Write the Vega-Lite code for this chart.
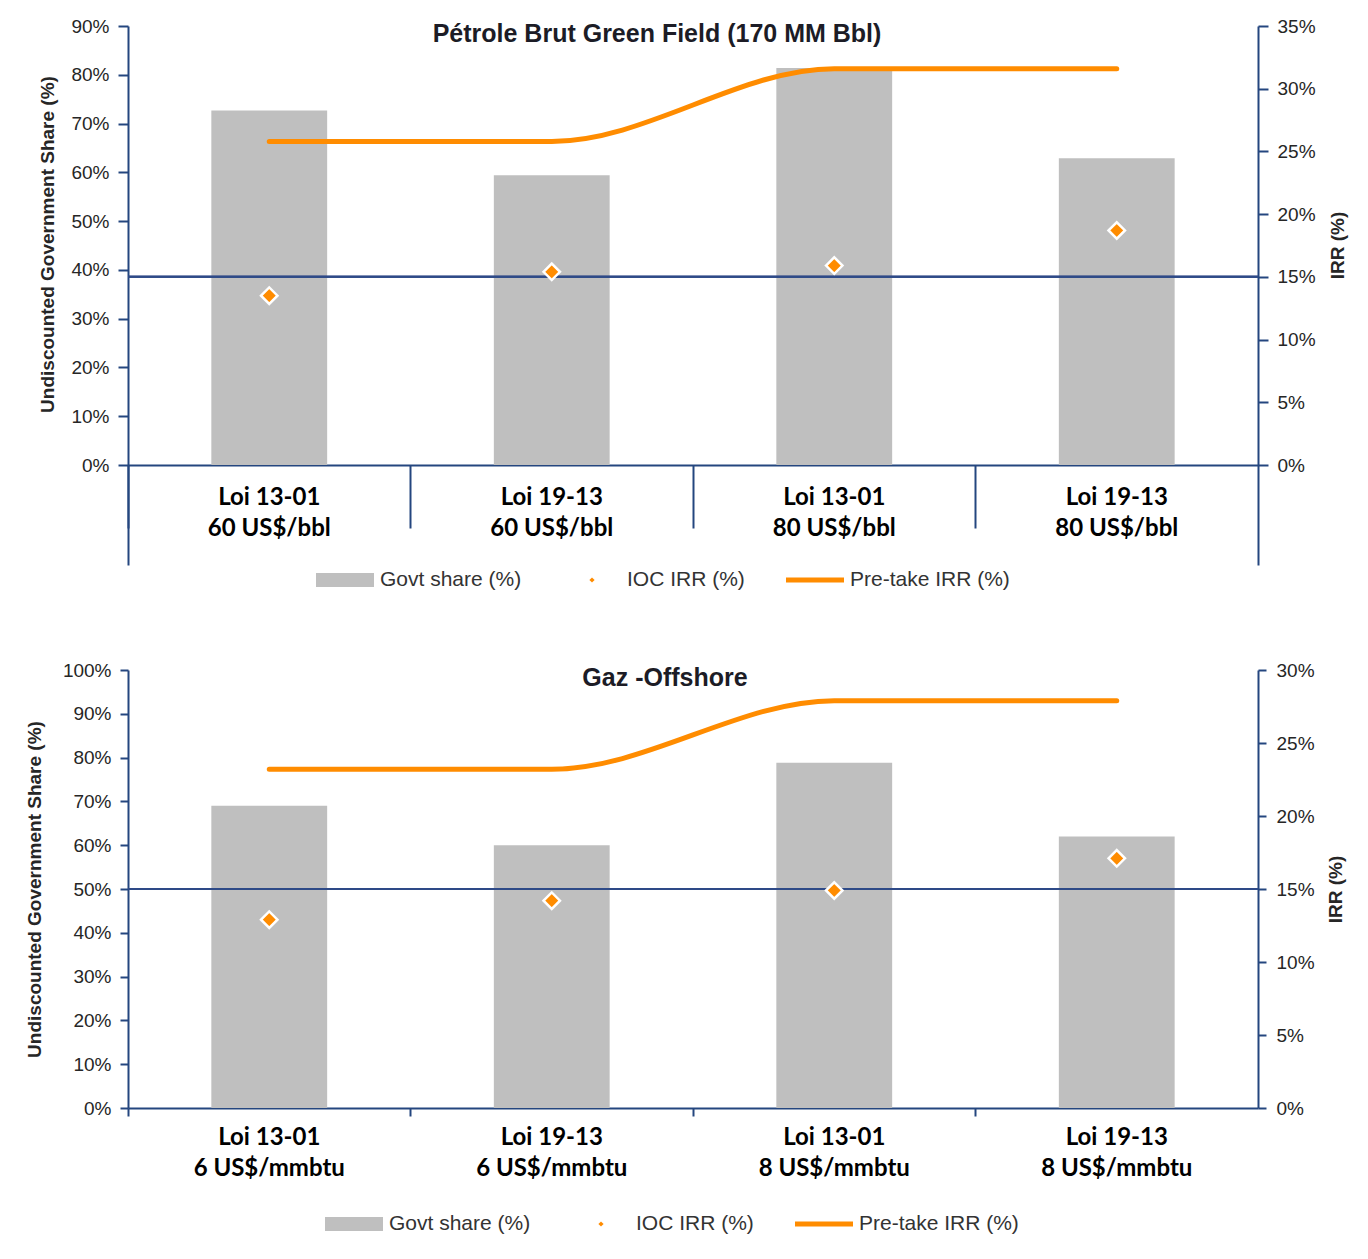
{
  "$schema": "https://vega.github.io/schema/vega-lite/v6.json",
  "background": "white",
  "padding": {"left": 25, "top": 17, "right": 5, "bottom": 5},
  "spacing": 71,
  "config": {
    "view": {"stroke": null},
    "axis": {
      "grid": false,
      "domainColor": "#24467f",
      "domainWidth": 2,
      "tickColor": "#24467f",
      "tickWidth": 2,
      "labelFont": "Liberation Sans",
      "labelFontSize": 19,
      "labelColor": "#262626",
      "labelOverlap": false,
      "labelFlush": false,
      "titleFont": "Liberation Sans",
      "titleFontSize": 19,
      "titleFontWeight": "bold",
      "titleColor": "#262626"
    },
    "title": {"font": "Liberation Sans", "fontSize": 25, "fontWeight": "bold", "color": "#1c1c26", "anchor": "middle", "frame": "group"}
  },
  "datasets": {
    "oil": [
      {"cat": "Loi 13-01|60 US$/bbl", "govt": 0.727, "ioc": 0.135, "pretake": 0.258},
      {"cat": "Loi 19-13|60 US$/bbl", "govt": 0.594, "ioc": 0.154, "pretake": 0.258},
      {"cat": "Loi 13-01|80 US$/bbl", "govt": 0.814, "ioc": 0.159, "pretake": 0.316},
      {"cat": "Loi 19-13|80 US$/bbl", "govt": 0.629, "ioc": 0.187, "pretake": 0.316}
    ],
    "gas": [
      {"cat": "Loi 13-01|6 US$/mmbtu", "govt": 0.69, "ioc": 0.129, "pretake": 0.232},
      {"cat": "Loi 19-13|6 US$/mmbtu", "govt": 0.60, "ioc": 0.142, "pretake": 0.232},
      {"cat": "Loi 13-01|8 US$/mmbtu", "govt": 0.788, "ioc": 0.149, "pretake": 0.279},
      {"cat": "Loi 19-13|8 US$/mmbtu", "govt": 0.62, "ioc": 0.171, "pretake": 0.279}
    ]
  },
  "resolve": {"scale": {"color": "independent"}},
  "vconcat": [
    {
      "data": {"name": "oil"},
      "width": 1130,
      "height": 539,
      "title": {"text": "Pétrole Brut Green Field (170 MM Bbl)", "offset": -30, "dx": -36},
      "layer": [
        {
          "mark": {"type": "bar", "color": "#bfbfbf", "width": {"band": 0.41}},
          "encoding": {
            "x": {"field": "cat", "type": "nominal", "sort": null, "scale": {"paddingInner": 0, "paddingOuter": 0},
              "axis": {"title": null, "orient": "bottom", "offset": -100, "tickSize": 63, "labelPadding": -43, "bandPosition": 0, "labelAngle": 0, "labelExpr": "split(datum.label, '|')", "labelFont": "Lato", "labelFontWeight": "bold", "labelFontSize": 24, "labelColor": "#000000", "labelLineHeight": 31}},
            "y": {"field": "govt", "type": "quantitative", "scale": {"domain": [-0.205, 0.9], "nice": false, "zero": false},
              "axis": {"title": "Undiscounted Government Share (%)", "values": [0, 0.1, 0.2, 0.3, 0.4, 0.5, 0.6, 0.7, 0.8, 0.9], "format": ".0%", "tickSize": 10, "labelPadding": 9, "titleX": -71, "titleY": 218, "titleAngle": 270, "titleBaseline": "bottom"}},
            "color": {"datum": "Govt share (%)", "type": "nominal",
              "scale": {"domain": ["Govt share (%)", "IOC IRR (%)", "Pre-take IRR (%)"], "range": ["#bfbfbf", "#ff8c00", "#ff8c00"]},
              "legend": {"orient": "none", "legendX": 188, "legendY": 525, "direction": "horizontal", "title": null, "symbolSize": 3364, "labelFont": "Liberation Sans", "labelFontSize": 21, "labelColor": "#333333", "labelOffset": 6, "columnPadding": 41, "padding": 0,
                "encode": {"symbols": {"update": {
                  "shape": {"signal": "datum.value === 'Govt share (%)' ? 'M-1,-0.24H1V0.24H-1Z' : datum.value === 'IOC IRR (%)' ? 'M0,-0.09L0.09,0L0,0.09L-0.09,0Z' : 'M-1,-0.09H1V0.09H-1Z'"},
                  "fill": {"signal": "datum.value === 'Govt share (%)' ? '#bfbfbf' : '#ff8c00'"},
                  "size": {"value": 3364},
                  "stroke": {"value": "transparent"},
                  "strokeWidth": {"value": 0},
                  "opacity": {"value": 1}
                }}}}}
          }
        },
        {
          "layer": [
            {
              "mark": {"type": "rule", "color": "#2e4a87", "strokeWidth": 2, "opacity": 0.8},
              "encoding": {
                "y": {"datum": 0.15, "type": "quantitative", "scale": {"domain": [-0.0797, 0.35], "nice": false, "zero": false},
                  "axis": {"title": "IRR (%)", "orient": "right", "values": [0, 0.05, 0.1, 0.15, 0.2, 0.25, 0.3, 0.35], "format": ".0%", "tickSize": 10, "labelPadding": 9, "titleX": 89, "titleY": 219, "titleAngle": 270, "titleBaseline": "bottom"}}
              }
            },
            {
              "mark": {"type": "line", "strokeWidth": 5, "interpolate": "monotone", "strokeCap": "round"},
              "encoding": {
                "x": {"field": "cat", "type": "nominal", "sort": null,
                  "axis": {"title": null, "orient": "bottom", "offset": -100, "tickSize": 63, "labelPadding": -43, "bandPosition": 0, "labelAngle": 0, "labelExpr": "split(datum.label, '|')", "labelFont": "Lato", "labelFontWeight": "bold", "labelFontSize": 24, "labelColor": "#000000", "labelLineHeight": 31}},
                "y": {"field": "pretake", "type": "quantitative",
                  "axis": {"title": "IRR (%)", "orient": "right", "values": [0, 0.05, 0.1, 0.15, 0.2, 0.25, 0.3, 0.35], "format": ".0%", "tickSize": 10, "labelPadding": 9, "titleX": 89, "titleY": 219, "titleAngle": 270, "titleBaseline": "bottom"}},
                "color": {"datum": "Pre-take IRR (%)", "type": "nominal"}
              }
            },
            {
              "mark": {"type": "point", "shape": "diamond", "filled": true, "size": 270, "stroke": "white", "strokeWidth": 2.5, "opacity": 1},
              "encoding": {
                "x": {"field": "cat", "type": "nominal", "sort": null,
                  "axis": {"title": null, "orient": "bottom", "offset": -100, "tickSize": 63, "labelPadding": -43, "bandPosition": 0, "labelAngle": 0, "labelExpr": "split(datum.label, '|')", "labelFont": "Lato", "labelFontWeight": "bold", "labelFontSize": 24, "labelColor": "#000000", "labelLineHeight": 31}},
                "y": {"field": "ioc", "type": "quantitative",
                  "axis": {"title": "IRR (%)", "orient": "right", "values": [0, 0.05, 0.1, 0.15, 0.2, 0.25, 0.3, 0.35], "format": ".0%", "tickSize": 10, "labelPadding": 9, "titleX": 89, "titleY": 219, "titleAngle": 270, "titleBaseline": "bottom"}},
                "color": {"datum": "IOC IRR (%)", "type": "nominal"}
              }
            }
          ]
        }
      ],
      "resolve": {"scale": {"y": "independent"}}
    },
    {
      "data": {"name": "gas"},
      "width": 1130,
      "height": 438,
      "title": {"text": "Gaz -Offshore", "offset": -30, "dx": -28},
      "layer": [
        {
          "mark": {"type": "bar", "color": "#bfbfbf", "width": {"band": 0.41}},
          "encoding": {
            "x": {"field": "cat", "type": "nominal", "sort": null, "scale": {"paddingInner": 0, "paddingOuter": 0},
              "axis": {"title": null, "orient": "bottom", "tickSize": 8, "labelPadding": 9, "bandPosition": 0, "labelAngle": 0, "labelExpr": "split(datum.label, '|')", "labelFont": "Lato", "labelFontWeight": "bold", "labelFontSize": 24, "labelColor": "#000000", "labelLineHeight": 31}},
            "y": {"field": "govt", "type": "quantitative", "scale": {"domain": [0, 1], "nice": false},
              "axis": {"title": "Undiscounted Government Share (%)", "values": [0, 0.1, 0.2, 0.3, 0.4, 0.5, 0.6, 0.7, 0.8, 0.9, 1], "format": ".0%", "tickSize": 8, "labelPadding": 9, "titlePadding": 18}},
            "color": {"datum": "Govt share (%)", "type": "nominal",
              "scale": {"domain": ["Govt share (%)", "IOC IRR (%)", "Pre-take IRR (%)"], "range": ["#bfbfbf", "#ff8c00", "#ff8c00"]},
              "legend": {"orient": "none", "legendX": 197, "legendY": 525, "direction": "horizontal", "title": null, "symbolSize": 3364, "labelFont": "Liberation Sans", "labelFontSize": 21, "labelColor": "#333333", "labelOffset": 6, "columnPadding": 41, "padding": 0,
                "encode": {"symbols": {"update": {
                  "shape": {"signal": "datum.value === 'Govt share (%)' ? 'M-1,-0.24H1V0.24H-1Z' : datum.value === 'IOC IRR (%)' ? 'M0,-0.09L0.09,0L0,0.09L-0.09,0Z' : 'M-1,-0.09H1V0.09H-1Z'"},
                  "fill": {"signal": "datum.value === 'Govt share (%)' ? '#bfbfbf' : '#ff8c00'"},
                  "size": {"value": 3364},
                  "stroke": {"value": "transparent"},
                  "strokeWidth": {"value": 0},
                  "opacity": {"value": 1}
                }}}}}
          }
        },
        {
          "layer": [
            {
              "mark": {"type": "rule", "color": "#2e4a87", "strokeWidth": 2, "opacity": 0.8},
              "encoding": {
                "y": {"datum": 0.15, "type": "quantitative", "scale": {"domain": [0, 0.3], "nice": false},
                  "axis": {"title": "IRR (%)", "orient": "right", "values": [0, 0.05, 0.1, 0.15, 0.2, 0.25, 0.3], "format": ".0%", "tickSize": 8, "labelPadding": 10, "titleX": 87, "titleY": 219, "titleAngle": 270, "titleBaseline": "bottom"}}
              }
            },
            {
              "mark": {"type": "line", "strokeWidth": 5, "interpolate": "monotone", "strokeCap": "round"},
              "encoding": {
                "x": {"field": "cat", "type": "nominal", "sort": null,
                  "axis": {"title": null, "orient": "bottom", "tickSize": 8, "labelPadding": 9, "bandPosition": 0, "labelAngle": 0, "labelExpr": "split(datum.label, '|')", "labelFont": "Lato", "labelFontWeight": "bold", "labelFontSize": 24, "labelColor": "#000000", "labelLineHeight": 31}},
                "y": {"field": "pretake", "type": "quantitative",
                  "axis": {"title": "IRR (%)", "orient": "right", "values": [0, 0.05, 0.1, 0.15, 0.2, 0.25, 0.3], "format": ".0%", "tickSize": 8, "labelPadding": 10, "titleX": 87, "titleY": 219, "titleAngle": 270, "titleBaseline": "bottom"}},
                "color": {"datum": "Pre-take IRR (%)", "type": "nominal"}
              }
            },
            {
              "mark": {"type": "point", "shape": "diamond", "filled": true, "size": 270, "stroke": "white", "strokeWidth": 2.5, "opacity": 1},
              "encoding": {
                "x": {"field": "cat", "type": "nominal", "sort": null,
                  "axis": {"title": null, "orient": "bottom", "tickSize": 8, "labelPadding": 9, "bandPosition": 0, "labelAngle": 0, "labelExpr": "split(datum.label, '|')", "labelFont": "Lato", "labelFontWeight": "bold", "labelFontSize": 24, "labelColor": "#000000", "labelLineHeight": 31}},
                "y": {"field": "ioc", "type": "quantitative",
                  "axis": {"title": "IRR (%)", "orient": "right", "values": [0, 0.05, 0.1, 0.15, 0.2, 0.25, 0.3], "format": ".0%", "tickSize": 8, "labelPadding": 10, "titleX": 87, "titleY": 219, "titleAngle": 270, "titleBaseline": "bottom"}},
                "color": {"datum": "IOC IRR (%)", "type": "nominal"}
              }
            }
          ]
        }
      ],
      "resolve": {"scale": {"y": "independent"}}
    }
  ]
}
